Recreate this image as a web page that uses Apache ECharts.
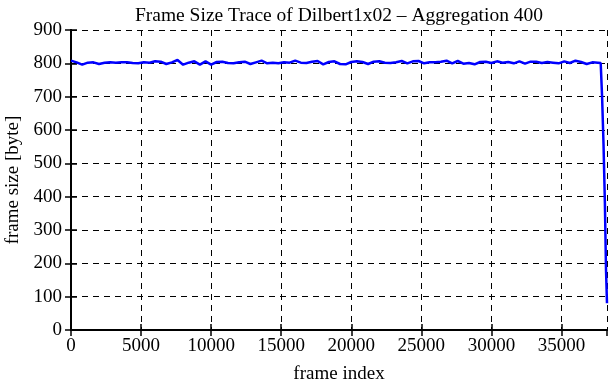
<!DOCTYPE html>
<html>
<head>
<meta charset="utf-8">
<script src="https://cdn.jsdelivr.net/npm/echarts@6/dist/echarts.min.js"></script>
<style>
  html, body { margin: 0; padding: 0; background: #fff; }
  #chart { width: 611px; height: 380px; }
</style>
</head>
<body>
<div id="chart"></div>
<script>
// frame sizes, aggregated over blocks of 400 frames
var step = 400;
var frameSize = [
  808, 803, 796, 802, 803, 798, 802, 803, 802, 803, 803, 801, 800, 803, 802, 806,
  805, 798, 803, 810, 796, 802, 806, 796, 806, 796, 804, 805, 801, 800, 803, 805,
  798, 803, 808, 800, 802, 800, 803, 802, 808, 802, 801, 805, 807, 797, 804, 806,
  798, 797, 804, 806, 804, 798, 805, 806, 802, 801, 803, 807, 800, 806, 807, 800,
  803, 803, 805, 808, 800, 807, 799, 801, 797, 804, 805, 801, 806, 802, 804, 800,
  806, 799, 805, 805, 801, 804, 802, 800, 806, 801, 808, 804, 798, 803, 802
];
// end of trace, where the last blocks fall off
var tailIndex = [37800, 37900, 38000, 38100, 38180, 38250];
var tailSize  = [801, 700, 560, 380, 180, 80];

var yTicks = [0, 100, 200, 300, 400, 500, 600, 700, 800, 900];

var points = frameSize.map(function (v, i) { return [i * step, v]; });
tailIndex.forEach(function (x, i) { points.push([x, tailSize[i]]); });

var font = "'Liberation Serif', 'DejaVu Serif', serif";
var dashed = { show: true, lineStyle: { color: '#000', type: [6, 5], width: 1 } };
var axisLine = { show: true, lineStyle: { color: '#000', width: 2 } };
var tick = { show: true, inside: true, length: 6, lineStyle: { color: '#000', width: 1.5 } };

var myChart = echarts.init(document.getElementById('chart'));
myChart.setOption({
  animation: false,
  title: {
    text: 'Frame Size Trace of Dilbert1x02 \u2013 Aggregation 400',
    left: 334,
    textAlign: 'center',
    top: 1,
    textStyle: { fontFamily: font, fontSize: 19.5, fontWeight: 'normal', color: '#000' }
  },
  grid: { left: 71, right: 4, top: 30, bottom: 50, outerBoundsMode: 'none' },
  xAxis: [{
    type: 'value',
    min: 0,
    max: 38250,
    interval: 5000,
    name: 'frame index',
    nameLocation: 'middle',
    nameGap: 35,
    nameTextStyle: { fontFamily: font, fontSize: 19, color: '#000' },
    axisLine: axisLine,
    axisTick: tick,
    splitLine: dashed,
    axisLabel: {
      fontFamily: font, fontSize: 19, color: '#000', margin: 7,
      showMaxLabel: false,
      formatter: function (v) { return v % 5000 === 0 ? String(v) : ''; }
    }
  }, {
    type: 'value',
    position: 'top',
    min: 0,
    max: 38250,
    interval: 5000,
    axisLine: axisLine,
    axisTick: tick,
    axisLabel: { show: false },
    splitLine: { show: false }
  }],
  yAxis: [{
    type: 'value',
    min: 0,
    max: 900,
    interval: 100,
    name: 'frame size [byte]',
    nameLocation: 'middle',
    nameGap: 48,
    nameTextStyle: { fontFamily: font, fontSize: 19, color: '#000' },
    axisLine: axisLine,
    axisTick: tick,
    splitLine: dashed,
    axisLabel: {
      fontFamily: font, fontSize: 19, color: '#000', margin: 9,
      formatter: function (v) { return yTicks.indexOf(v) >= 0 ? String(v) : ''; }
    }
  }, {
    type: 'value',
    position: 'right',
    min: 0,
    max: 900,
    interval: 100,
    axisLine: axisLine,
    axisTick: tick,
    axisLabel: { show: false },
    splitLine: { show: false }
  }],
  series: [{
    type: 'line',
    data: points,
    showSymbol: false,
    lineStyle: { color: '#0000ff', width: 2.5 },
    z: 5
  }]
});
</script>
</body>
</html>
